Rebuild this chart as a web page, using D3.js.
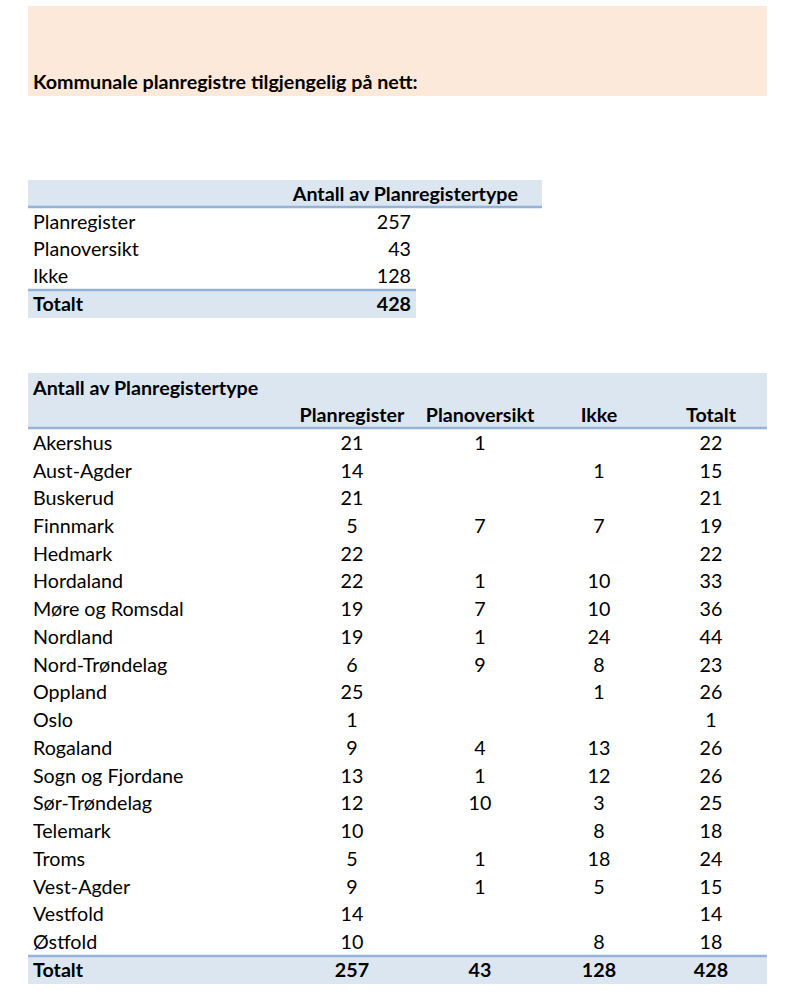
<!DOCTYPE html>
<html><head><meta charset="utf-8">
<script src="https://cdn.jsdelivr.net/npm/d3@7"></script>
<style>body{margin:0;background:#fff}svg{display:block}text{font-family:Lato,"Open Sans",sans-serif;fill:#000}</style>
</head><body>
<script>
const title = "Kommunale planregistre tilgjengelig på nett:";
const summaryHeader = "Antall av Planregistertype";
const summaryLabels = ["Planregister","Planoversikt","Ikke"];
const summaryValues = [257,43,128];
const summaryTotal = 428;
const columns = ["Planregister","Planoversikt","Ikke","Totalt"];
const counties = ["Akershus","Aust-Agder","Buskerud","Finnmark","Hedmark","Hordaland","Møre og Romsdal","Nordland","Nord-Trøndelag","Oppland","Oslo","Rogaland","Sogn og Fjordane","Sør-Trøndelag","Telemark","Troms","Vest-Agder","Vestfold","Østfold"];
const planregister = [21,14,21,5,22,22,19,19,6,25,1,9,13,12,10,5,9,14,10];
const planoversikt = [1,null,null,7,null,1,7,1,9,null,null,4,1,10,null,1,1,null,null];
const ikke = [null,1,null,7,null,10,10,24,8,1,null,13,12,3,8,18,5,null,8];
const totalt = [22,15,21,19,22,33,36,44,23,26,1,26,26,25,18,24,15,14,18];
const columnTotals = [257,43,128,428];

const W=788,H=1000, FS=19.7;
const svg=d3.select("body").append("svg").attr("width",W).attr("height",H);
const band="#DCE6F1", line="#95B3D7", LW=2.6;

// title band
svg.append("rect").attr("x",28).attr("y",6).attr("width",739).attr("height",90).attr("fill","#FDE9D9");
svg.append("text").attr("x",33).attr("y",89).attr("font-weight","bold").attr("font-size",FS).text(title);

// summary table
svg.append("rect").attr("x",28).attr("y",180).attr("width",514).attr("height",27).attr("fill",band);
svg.append("line").attr("x1",28).attr("x2",542).attr("y1",207).attr("y2",207).attr("stroke",line).attr("stroke-width",LW);
svg.append("text").attr("x",518).attr("y",194).attr("dy","0.35em").attr("text-anchor","end").attr("font-weight","bold").attr("font-size",FS).text(summaryHeader);
const y1=d3.scaleBand().domain(summaryLabels).range([208,290]);
const g1=svg.append("g");
summaryLabels.forEach((l,i)=>{
  const cy=y1(l)+y1.bandwidth()/2;
  g1.append("text").attr("x",33).attr("y",cy).attr("dy","0.35em").attr("font-size",FS).text(l);
  g1.append("text").attr("x",411).attr("y",cy).attr("dy","0.35em").attr("text-anchor","end").attr("font-size",FS).text(summaryValues[i]);
});
svg.append("rect").attr("x",28).attr("y",290).attr("width",388).attr("height",28).attr("fill",band);
svg.append("line").attr("x1",28).attr("x2",416).attr("y1",290).attr("y2",290).attr("stroke",line).attr("stroke-width",LW);
svg.append("text").attr("x",33).attr("y",304).attr("dy","0.35em").attr("font-weight","bold").attr("font-size",FS).text("Totalt");
svg.append("text").attr("x",411).attr("y",304).attr("dy","0.35em").attr("text-anchor","end").attr("font-weight","bold").attr("font-size",FS).text(summaryTotal);

// main table
const x=d3.scaleOrdinal().domain(columns).range([352,480,599,711]);
svg.append("rect").attr("x",28).attr("y",373).attr("width",739).attr("height",55).attr("fill",band);
svg.append("line").attr("x1",28).attr("x2",767).attr("y1",428).attr("y2",428).attr("stroke",line).attr("stroke-width",LW);
svg.append("text").attr("x",33).attr("y",388).attr("dy","0.35em").attr("font-weight","bold").attr("font-size",FS).text(summaryHeader);
columns.forEach(c=>svg.append("text").attr("x",x(c)).attr("y",415).attr("dy","0.35em").attr("text-anchor","middle").attr("font-weight","bold").attr("font-size",FS).text(c));
const y2=d3.scaleBand().domain(counties).range([429,956]);
const series=[planregister,planoversikt,ikke,totalt];
const rows=svg.append("g").selectAll("g").data(counties).join("g")
  .attr("transform",d=>`translate(0,${y2(d)+y2.bandwidth()/2})`);
rows.append("text").attr("x",33).attr("dy","0.35em").attr("font-size",FS).text(d=>d);
columns.forEach((c,ci)=>{
  rows.append("text").attr("x",x(c)).attr("dy","0.35em").attr("text-anchor","middle").attr("font-size",FS)
    .text((d,i)=>series[ci][i]==null?"":series[ci][i]);
});
svg.append("rect").attr("x",28).attr("y",956).attr("width",739).attr("height",28).attr("fill",band);
svg.append("line").attr("x1",28).attr("x2",767).attr("y1",956).attr("y2",956).attr("stroke",line).attr("stroke-width",LW);
svg.append("text").attr("x",33).attr("y",970).attr("dy","0.35em").attr("font-weight","bold").attr("font-size",FS).text("Totalt");
columns.forEach((c,ci)=>svg.append("text").attr("x",x(c)).attr("y",970).attr("dy","0.35em").attr("text-anchor","middle").attr("font-weight","bold").attr("font-size",FS).text(columnTotals[ci]));
</script>
</body></html>
